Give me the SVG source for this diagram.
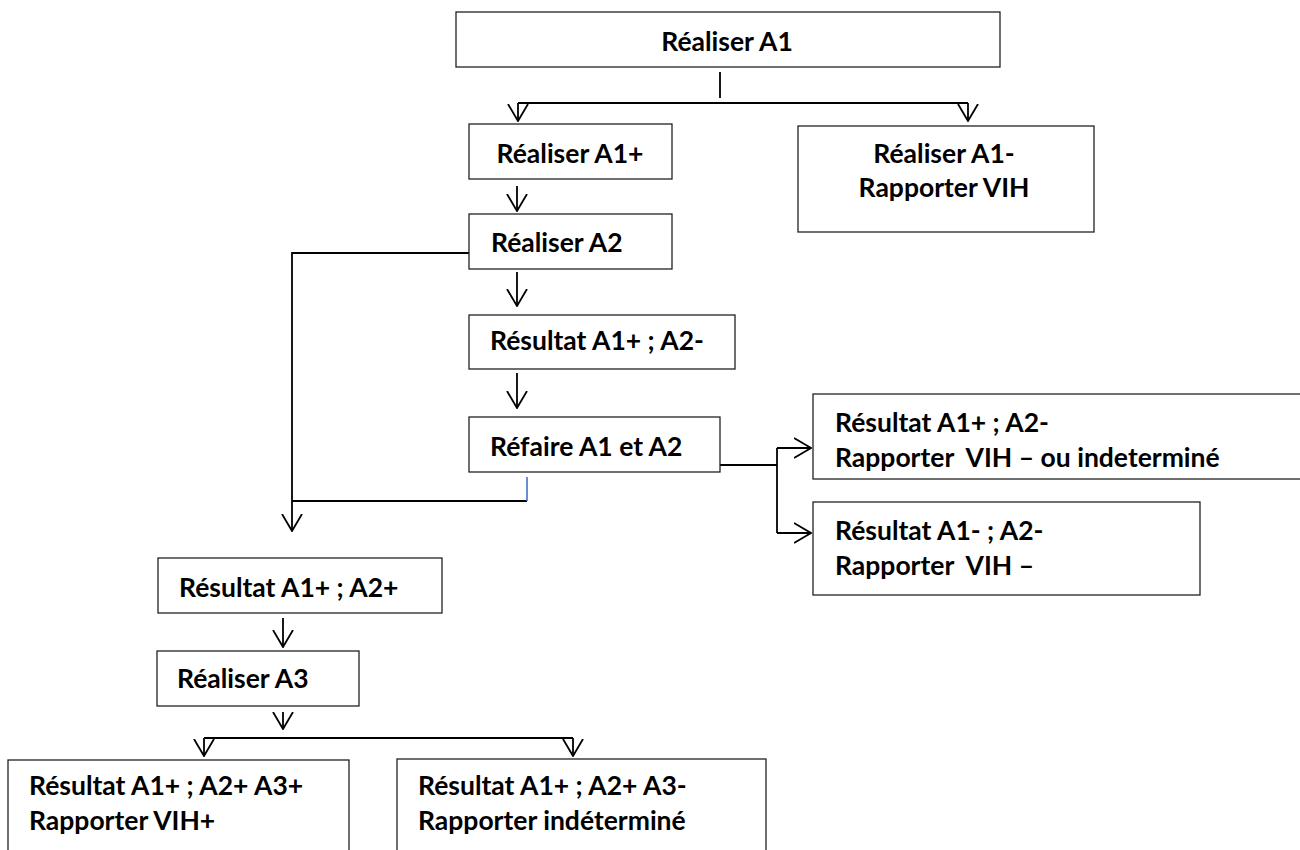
<svg xmlns="http://www.w3.org/2000/svg" width="1300" height="850" viewBox="0 0 1300 850">
<style>
.box{fill:#fff;stroke:#222;stroke-width:1.3}
.t{font-family:Lato,"Open Sans","Liberation Sans",sans-serif;font-weight:bold;font-size:26.5px;fill:#000}
.c{text-anchor:middle}
.ln{fill:none;stroke:#000;stroke-width:1.8}
.ar{fill:none;stroke:#000;stroke-width:1.8;marker-end:url(#ah)}
</style>
<defs>
<marker id="ah" viewBox="0 0 18 22" refX="17" refY="11" markerWidth="18" markerHeight="22" markerUnits="userSpaceOnUse" orient="auto">
<path d="M0,1 L17,11 L0,21" fill="none" stroke="#000" stroke-width="1.8"/>
</marker>
</defs>
<rect width="1300" height="850" fill="#fff"/>
<g id="connectors">
<path class="ln" d="M720,72 V98"/>
<path class="ln" d="M518,103 H968"/>
<path class="ar" d="M518,103 V121"/>
<path class="ar" d="M968,103 V121"/>
<path class="ar" d="M517,186 V211"/>
<path class="ar" d="M517,272 V306"/>
<path class="ar" d="M517,373 V408"/>
<path class="ar" d="M469,253 H292 V531"/>
<path class="ln" d="M292,501 H527"/>
<path fill="none" stroke="#4472C4" stroke-width="1.6" d="M527,477 V501"/>
<path class="ln" d="M720,465 H777"/>
<path class="ln" d="M777,448 V533"/>
<path class="ar" d="M777,448 H811"/>
<path class="ar" d="M777,533 H811"/>
<path class="ar" d="M283,618 V647"/>
<path class="ar" d="M283,712 V729"/>
<path class="ln" d="M204,738 H573"/>
<path class="ar" d="M204,738 V756"/>
<path class="ar" d="M573,738 V756"/>
</g>
<g id="n-a1"><rect class="box" x="456" y="12" width="544" height="55"/><text class="t c" x="727" y="51">Réaliser A1</text></g>
<g id="n-a1p"><rect class="box" x="469" y="124" width="203" height="55"/><text class="t c" x="570" y="163">Réaliser A1+</text></g>
<g id="n-a1m"><rect class="box" x="798" y="126" width="296" height="106"/><text class="t c" x="944" y="163">Réaliser A1-</text><text class="t c" x="944" y="197">Rapporter VIH</text></g>
<g id="n-a2"><rect class="box" x="469" y="214" width="203" height="55"/><text class="t" x="491" y="252">Réaliser A2</text></g>
<g id="n-r1"><rect class="box" x="469" y="315" width="266" height="54"/><text class="t" x="490" y="350">Résultat A1+ ; A2-</text></g>
<g id="n-refaire"><rect class="box" x="469" y="417" width="251" height="55"/><text class="t" x="490" y="456">Réfaire A1 et A2</text></g>
<g id="n-r2"><rect class="box" x="813" y="394" width="520" height="85"/><text class="t" x="835" y="432">Résultat A1+ ; A2-</text><text class="t" x="835" y="467" xml:space="preserve">Rapporter  VIH – ou indeterminé</text></g>
<g id="n-r3"><rect class="box" x="813" y="502" width="387" height="93"/><text class="t" x="835" y="540">Résultat A1- ; A2-</text><text class="t" x="835" y="575" xml:space="preserve">Rapporter  VIH –</text></g>
<g id="n-r4"><rect class="box" x="158" y="558" width="284" height="55"/><text class="t" x="179" y="597">Résultat A1+ ; A2+</text></g>
<g id="n-a3"><rect class="box" x="157" y="651" width="202" height="55"/><text class="t" x="177" y="688">Réaliser A3</text></g>
<g id="n-r5"><rect class="box" x="8" y="760" width="341" height="120"/><text class="t" x="29" y="795">Résultat A1+ ; A2+ A3+</text><text class="t" x="29" y="830">Rapporter VIH+</text></g>
<g id="n-r6"><rect class="box" x="397" y="759" width="369" height="120"/><text class="t" x="418" y="795">Résultat A1+ ; A2+ A3-</text><text class="t" x="418" y="830">Rapporter indéterminé</text></g>
</svg>
